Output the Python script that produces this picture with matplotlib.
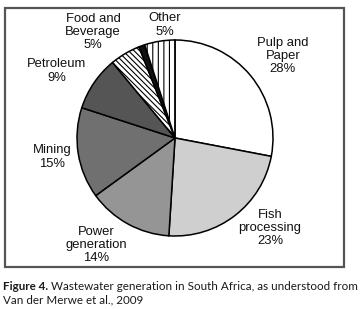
import matplotlib
matplotlib.use("Agg")
import matplotlib.pyplot as plt
from matplotlib.patches import Rectangle

# data (clockwise from 12 o'clock)
sectors = ["Pulp and\nPaper", "Fish\nprocessing", "Power\ngeneration", "Mining",
           "Petroleum", "Food and\nBeverage", "", "Other"]
shares = [28, 23, 14, 15, 9, 5, 1, 5]
labels = ["28%", "23%", "14%", "15%", "9%", "5%", "", "5%"]

fills = ["white", "#cfcfcf", "#959595", "#707070", "#555555", "white", "#111111", "white"]
hatches = [None, None, None, None, None, "\\\\\\\\\\\\", None, "|||"]

W, H = 361, 309
fig = plt.figure(figsize=(W / 100, H / 100), dpi=100)
plt.rcParams['hatch.linewidth'] = 0.8

# pie geometry in pixels
cx, cy, r = 175, 138, 98
ax = fig.add_axes([(cx - r) / W, (H - cy - r) / H, 2 * r / W, 2 * r / H])
wedges, _ = ax.pie(shares, startangle=90, counterclock=False, colors=fills,
                   wedgeprops=dict(edgecolor="black", linewidth=1.1))
for w, h in zip(wedges, hatches):
    if h:
        w.set_hatch(h)
ax.set_xlim(-1, 1)
ax.set_ylim(-1, 1)
ax.set_aspect("auto")
ax.axis("off")

# label positions (pixels, centre of text block)
label_pos = [(283, 56), (270, 228), (96, 245), (52, 157),
             (57, 71), (93, 32), None, (165, 25)]
for name, pct, pos in zip(sectors, labels, label_pos):
    if pos is None:
        continue
    x = (pos[0] - cx) / r
    y = (cy - pos[1]) / r
    ax.text(x, y, name + "\n" + pct, ha="center", va="center",
            fontsize=9.4, family="Liberation Sans", linespacing=1.12,
            color="#111111")

# frame around the chart
fig.patches.append(Rectangle((5 / W, 1 - 267 / H), 339 / W, 259 / H,
                             transform=fig.transFigure, fill=False,
                             edgecolor="#555555", linewidth=1.6))

# caption
cap_font = dict(family="Lato", fontsize=8.4, color="#1a1a1a", va="center")
t1 = fig.text(3 / W, 1 - 287 / H, "Figure 4.", fontweight="bold", **cap_font)
fig.canvas.draw()
bb = t1.get_window_extent(fig.canvas.get_renderer())
fig.text((bb.x1 + 2.5) / W, 1 - 287 / H,
         "Wastewater generation in South Africa, as understood from", **cap_font)
fig.text(3 / W, 1 - 300 / H, "Van der Merwe et al., 2009", **cap_font)

fig.savefig("out.png", dpi=100)
